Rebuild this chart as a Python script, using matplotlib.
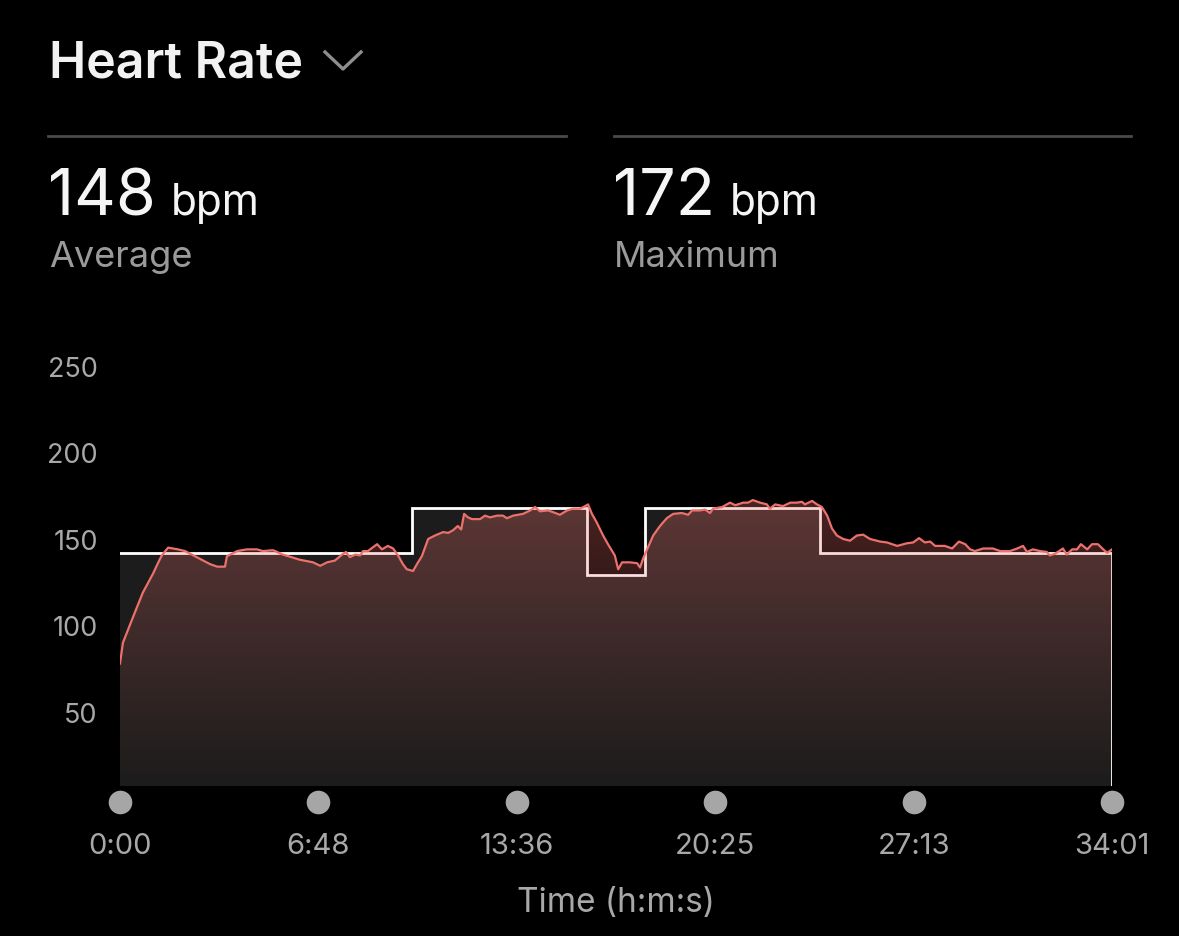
import numpy as np
import matplotlib
matplotlib.use("Agg")
import matplotlib.pyplot as plt
from matplotlib.patches import Polygon
from matplotlib.lines import Line2D
import matplotlib.transforms as mtransforms

plt.rcParams['font.family'] = ['Inter', 'DejaVu Sans']

# heart rate samples (seconds, bpm)
t_sec = [0, 6, 27, 47, 68, 78, 86, 99, 119, 134,
         158, 185, 200, 216, 220, 241, 261, 282, 294, 315,
         335, 370, 397, 412, 426, 442, 457, 465, 473, 484,
         494, 500, 510, 529, 539, 551, 562, 572, 582, 590,
         603, 611, 621, 634, 648, 665, 675, 685, 695, 702,
         708, 716, 724, 730, 741, 751, 761, 776, 788, 796,
         809, 829, 844, 854, 864, 881, 891, 905, 920, 932,
         946, 957, 963, 971, 981, 994, 1004, 1018, 1025, 1033,
         1049, 1064, 1070, 1076, 1086, 1097, 1111, 1125, 1138, 1156,
         1169, 1177, 1193, 1204, 1214, 1220, 1239, 1255, 1266, 1282,
         1292, 1302, 1317, 1331, 1337, 1348, 1364, 1379, 1393, 1403,
         1409, 1424, 1434, 1444, 1455, 1465, 1475, 1488, 1502, 1516,
         1529, 1543, 1564, 1578, 1599, 1619, 1632, 1644, 1656, 1667,
         1677, 1697, 1712, 1726, 1739, 1749, 1759, 1776, 1796, 1811,
         1831, 1846, 1858, 1866, 1878, 1893, 1907, 1913, 1924, 1940,
         1948, 1959, 1969, 1977, 1990, 2000, 2012, 2023, 2031, 2041]
hr = [78, 90, 105, 119, 130, 136, 140.5, 145, 144, 143,
      139.5, 135.5, 134, 134, 140, 143, 144, 144, 143, 143.5,
      141, 138, 136.5, 134.5, 136.5, 137.5, 141, 142.5, 139.5, 141,
      140.5, 143, 143, 147, 144, 146, 144.5, 140.5, 135.5, 132.5,
      131.5, 135.5, 140, 150, 152, 154, 153.5, 155, 157.5, 155.5,
      164.5, 162.5, 161.5, 161.5, 161.5, 163.5, 162.5, 163.5, 163.5, 162,
      163.5, 164.5, 166.5, 168.5, 166, 166.5, 165.5, 164, 166.5, 167.5,
      167.5, 169, 170, 164.5, 159.5, 152, 147, 140.5, 132.5, 136.5,
      136.5, 136, 133.5, 138.5, 145, 152, 157.5, 162, 164.5, 165,
      164, 166.5, 166.5, 167, 165, 167.5, 168.5, 171, 169.5, 171,
      171, 172.5, 171, 170, 167.5, 170, 169, 171, 171, 171.5,
      170, 172, 170, 168.5, 163.5, 156, 152, 150, 149, 152,
      152.5, 150, 148.5, 148, 146, 147.5, 148, 150.5, 148, 148.5,
      146, 146, 144.5, 148.5, 147, 144, 143, 144.5, 144.5, 143,
      143, 144.5, 146, 142.5, 144, 143, 142.5, 140.5, 141.5, 144.5,
      141, 144, 144, 147, 144, 147, 147, 144, 142, 144]

# target zones (step edges in seconds, target bpm)
step_edges = [0, 600, 960, 1080, 1440, 2041]
step_vals = [142, 168, 129, 168, 142]

y_ticks = [50, 100, 150, 200, 250]
total_sec = 2041
avg_bpm = 148
max_bpm = 172

W, H = 1179, 937
fig = plt.figure(figsize=(W / 100, H / 100), dpi=100, facecolor='black')

def fx(px):
    return px / W

def fy(py):
    return 1 - py / H

ymin, ymax = 7.2, 250
ax = fig.add_axes([fx(120), fy(787), fx(1112) - fx(120), fy(367) - fy(787)])
ax.set_facecolor('black')
ax.set_xlim(0, total_sec)
ax.set_ylim(ymin, ymax)
for s in ax.spines.values():
    s.set_visible(False)

# grey zone area
sx = np.array(step_edges, dtype=float)
sy = np.array(step_vals + [step_vals[-1]], dtype=float)
ax.fill_between(sx, ymin, sy, step='post', color='#1c1c1c', lw=0, zorder=1)

# white zone outline
lx, ly = [], []
for i, v in enumerate(step_vals):
    lx += [step_edges[i], step_edges[i + 1]]
    ly += [v, v]
lx.append(step_edges[-1])
ly.append(ymin)
ax.plot(lx, ly, color='white', lw=2.0, zorder=2, solid_joinstyle='miter')

# gradient fill under the heart rate line
t = np.array(t_sec, dtype=float)
h = np.array(hr, dtype=float)
verts = [(t[0], ymin)] + list(zip(t, h)) + [(t[-1], ymin)]
poly = Polygon(verts, closed=True, facecolor='none', edgecolor='none')
ax.add_patch(poly)
n = 256
grad = np.zeros((n, 1, 4))
grad[:, 0, 0] = 0.93
grad[:, 0, 1] = 0.45
grad[:, 0, 2] = 0.43
grad[:, 0, 3] = np.linspace(0.0, 0.32, n)
top = h.max() + 3
im = ax.imshow(grad, extent=(0, total_sec, ymin, top), origin='lower',
               aspect='auto', interpolation='bicubic', zorder=3)
im.set_clip_path(poly)
ax.set_xlim(0, total_sec)
ax.set_ylim(ymin, ymax)

ax.plot(t, h, color='#ec706b', lw=1.6, zorder=4)

# y ticks
ax.set_yticks(y_ticks)
ax.set_yticklabels([str(v) for v in y_ticks])
ax.tick_params(axis='y', length=0, pad=16, labelsize=19.5, labelcolor='#a8a8a8')

# x ticks with grey dots
xt = [total_sec * i / 5 for i in range(6)]
def fmt(s):
    s = int(round(s))
    return f"{s // 60}:{s % 60:02d}"
ax.set_xticks(xt)
ax.set_xticklabels([fmt(v) for v in xt])
ax.tick_params(axis='x', length=0, pad=33, labelsize=21, labelcolor='#a8a8a8')
trans = mtransforms.blended_transform_factory(ax.transData, ax.transAxes)
ax.plot(xt, [-0.038] * len(xt), 'o', color='#a6a6a6', ms=17, mew=0,
        transform=trans, clip_on=False, zorder=5)

fig.text(fx(616), fy(903), 'Time (h:m:s)', ha='center', va='center',
         fontsize=24, color='#a8a8a8')

# header
fig.text(fx(49), fy(78), 'Heart Rate', ha='left', va='baseline',
         fontsize=36, color='#f2f2f2', fontweight='semibold')
fig.add_artist(Line2D([fx(325), fx(343), fx(361)], [fy(53), fy(70), fy(53)],
                      color='#8e8e8e', lw=2.4, transform=fig.transFigure))

fig.add_artist(Line2D([fx(48), fx(566)], [fy(137), fy(137)], color='#4a4a4a',
                      lw=2, transform=fig.transFigure))
fig.add_artist(Line2D([fx(614), fx(1131)], [fy(137), fy(137)], color='#4a4a4a',
                      lw=2, transform=fig.transFigure))

for x0, val, lab in [(48, avg_bpm, 'Average'), (613, max_bpm, 'Maximum')]:
    tx = fig.text(fx(x0), fy(215), str(val), ha='left', va='baseline',
                  fontsize=46.5, color='#f5f5f5', fontweight='normal')
    fig.canvas.draw()
    bb = tx.get_window_extent()
    fig.text(bb.x1 / W + fx(15), fy(215), 'bpm', ha='left', va='baseline',
             fontsize=30.5, color='#f5f5f5')
    fig.text(fx(x0 + 1), fy(267), lab, ha='left', va='baseline',
             fontsize=26, color='#9a9a9a')

fig.savefig('out.png', dpi=100, facecolor='black')
